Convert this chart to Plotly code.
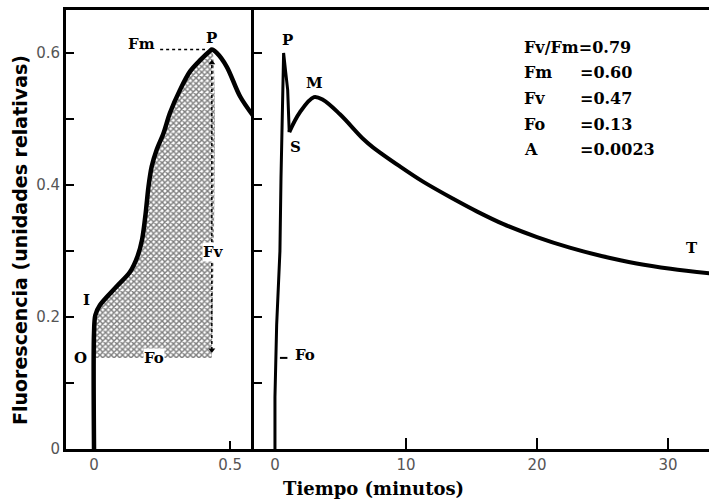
import plotly.graph_objects as go

# ---------------- data ----------------
# Fast kinetics (left panel)
fast_t = [0, 0, 0.005, 0.022, 0.083, 0.132, 0.16, 0.177, 0.19, 0.2, 0.212, 0.23,
          0.255, 0.279, 0.316, 0.353, 0.39, 0.426, 0.433, 0.451, 0.488, 0.537, 0.588]
fast_f = [0, 0.176, 0.203, 0.218, 0.246, 0.268, 0.292, 0.318, 0.358, 0.397, 0.428, 0.453,
          0.478, 0.509, 0.544, 0.572, 0.589, 0.603, 0.605, 0.600, 0.579, 0.534, 0.503]

# Slow kinetics (right panel, minutes)
slow_t = [0, 0, 0.13, 0.33, 0.38, 0.46, 0.59, 0.66, 0.82, 0.97, 1.09, 1.9, 2.98, 3.66,
          4.96, 6.72, 7.48, 9.54, 11.3, 13.6, 15.4, 17.4, 20.0, 22.5, 25.0, 27.6, 30.2, 33.2]
slow_f = [0, 0.079, 0.188, 0.282, 0.30, 0.41, 0.564, 0.60, 0.571, 0.544, 0.48, 0.51, 0.533,
          0.529, 0.507, 0.470, 0.457, 0.428, 0.405, 0.379, 0.360, 0.341, 0.321, 0.305,
          0.292, 0.281, 0.273, 0.266]

FO = 0.138
FM = 0.605

param_names = ["Fv/Fm", "Fm", "Fv", "Fo", "A"]
param_values = ["0.79", "0.60", "0.47", "0.13", "0.0023"]

y_tickvals = [0, 0.1, 0.2, 0.3, 0.4, 0.5, 0.6]
y_ticktext = ["0", "", "0.2", "", "0.4", "", "0.6"]
left_xticks = [0, 0.5]
left_xtext = ["0", "0.5"]
right_xticks = [0, 10, 20, 30]
right_xtext = ["0", "10", "20", "30"]

# ---------------- layout helpers ----------------
W, H = 709, 501
def px(x):
    return x / W
def py(y):
    return 1 - y / H

SERIF = "DejaVu Serif"
SANS = "DejaVu Sans"
TICKFONT = dict(family=SANS, size=15, color="#555")

fig = go.Figure()

# hatched area between curve and Fo up to P
peak = fast_f.index(max(fast_f))
poly_x = [fast_t[0]] + fast_t[1:peak + 1] + [fast_t[peak]]
poly_y = [FO] + fast_f[1:peak + 1] + [FO]
fig.add_trace(go.Scatter(
    x=poly_x, y=poly_y, fill="toself", mode="none", xaxis="x", yaxis="y",
    line=dict(shape="spline", smoothing=0.9),
    fillcolor="rgba(0,0,0,0)",
    fillpattern=dict(shape="x", fgcolor="black", bgcolor="white", size=4, solidity=0.6),
    showlegend=False, hoverinfo="skip"))

# Fv dotted arrow
fig.add_trace(go.Scatter(
    x=[fast_t[peak], fast_t[peak]], y=[FO + 0.012, FM - 0.02], mode="lines",
    line=dict(color="black", width=1.5, dash="dot"), xaxis="x", yaxis="y",
    showlegend=False, hoverinfo="skip"))
fig.add_trace(go.Scatter(
    x=[fast_t[peak], fast_t[peak]], y=[FO + 0.012, FM - 0.02], mode="markers",
    marker=dict(symbol=["triangle-down", "triangle-up"], size=6, color="black"),
    xaxis="x", yaxis="y", showlegend=False, hoverinfo="skip"))

# Fm dotted line
fig.add_trace(go.Scatter(
    x=[0.243, fast_t[peak] - 0.025], y=[FM, FM], mode="lines",
    line=dict(color="black", width=1.5, dash="dot"), xaxis="x", yaxis="y",
    showlegend=False, hoverinfo="skip"))

# fast curve
fig.add_trace(go.Scatter(
    x=fast_t, y=fast_f, mode="lines",
    line=dict(color="black", width=4.5, shape="spline", smoothing=0.9),
    xaxis="x", yaxis="y", showlegend=False))

# slow curve: spike part (straight segments) and slow phase (smoothed)
s_idx = 10
fig.add_trace(go.Scatter(
    x=slow_t[:s_idx + 1], y=slow_f[:s_idx + 1], mode="lines",
    line=dict(color="black", width=3),
    xaxis="x2", yaxis="y2", showlegend=False))
fig.add_trace(go.Scatter(
    x=slow_t[s_idx:], y=slow_f[s_idx:], mode="lines",
    line=dict(color="black", width=4, shape="spline", smoothing=1.0),
    xaxis="x2", yaxis="y2", showlegend=False))

# Fo tick in right panel
fig.add_trace(go.Scatter(
    x=[0.38, 0.95], y=[FO, FO], mode="lines", line=dict(color="black", width=2),
    xaxis="x2", yaxis="y2", showlegend=False, hoverinfo="skip"))

common_axis = dict(showline=True, linecolor="black", linewidth=3, ticks="inside",
                   tickcolor="black", tickwidth=2, showgrid=False, zeroline=False,
                   tickfont=TICKFONT, automargin=False)

fig.update_layout(
    width=W, height=H, margin=dict(l=0, r=0, t=0, b=0),
    paper_bgcolor="white", plot_bgcolor="white",
    xaxis=dict(domain=[px(66), px(254)], range=[-0.103, 0.588], anchor="y",
               tickvals=left_xticks, ticktext=left_xtext, ticklen=8, mirror=True,
               **common_axis),
    xaxis2=dict(domain=[px(254), 1], range=[-1.6, 33.13], anchor="y2",
                tickvals=right_xticks, ticktext=right_xtext, ticklen=11, mirror=True,
                **common_axis),
    yaxis=dict(domain=[py(449), py(10)], range=[0, 0.665], anchor="x",
               tickvals=y_tickvals, ticktext=y_ticktext, ticklen=8, mirror=False,
               **common_axis),
    yaxis2=dict(domain=[py(449), py(10)], range=[0, 0.665], anchor="x2",
                tickvals=y_tickvals, ticktext=[""] * len(y_tickvals), ticklen=8,
                mirror=False, **common_axis),
)

LBL = dict(family=SERIF, size=15, color="black")
BOX = dict(family=SERIF, size=16, color="black")
ann = []
def a(x, y, text, xref="x", yref="y", **kw):
    d = dict(x=x, y=y, text="<b>%s</b>" % text, xref=xref, yref=yref, showarrow=False,
             font=LBL, xanchor="center", yanchor="middle")
    d.update(kw)
    ann.append(d)

# left panel labels
a(fast_t[peak], FM, "P", yshift=12)
a(0.173, FM, "Fm", yshift=6)
a(-0.029, 0.226, "I")
a(-0.048, FO, "O")
a(fast_t[peak] + 0.005, 0.298, "Fv", bgcolor="white", borderpad=0)
a(0.22, FO, "Fo", bgcolor="white", borderpad=0)

# right panel labels
a(0.97, 0.60, "P", xref="x2", yref="y2", yshift=13)
a(1.55, 0.458, "S", xref="x2", yref="y2")
a(2.98, 0.533, "M", xref="x2", yref="y2", yshift=14)
a(31.8, 0.305, "T", xref="x2", yref="y2")
a(1.35, FO, "Fo", xref="x2", yref="y2", xanchor="left", yshift=3)

# parameter box
rows_y = [48, 73, 98, 125, 150]
for i, (n, v) in enumerate(zip(param_names, param_values)):
    if i == 0:
        ann.append(dict(x=px(522), y=py(rows_y[i]), xref="paper", yref="paper",
                        text="<b>%s=%s</b>" % (n, v), showarrow=False, xanchor="left",
                        yanchor="middle", font=BOX))
    else:
        ann.append(dict(x=px(522), y=py(rows_y[i]), xref="paper", yref="paper",
                        text="<b>%s</b>" % n, showarrow=False, xanchor="left",
                        yanchor="middle", font=BOX))
        ann.append(dict(x=px(578), y=py(rows_y[i]), xref="paper", yref="paper",
                        text="<b>=%s</b>" % v, showarrow=False, xanchor="left",
                        yanchor="middle", font=BOX))

# axis titles
ann.append(dict(x=px(374), y=py(488), xref="paper", yref="paper",
                text="<b>Tiempo (minutos)</b>", showarrow=False,
                xanchor="center", yanchor="middle",
                font=dict(family=SERIF, size=18, color="black")))
ann.append(dict(x=px(20), y=py(240), xref="paper", yref="paper",
                text="<b>Fluorescencia (unidades relativas)</b>", showarrow=False,
                xanchor="center", yanchor="middle",
                textangle=-90, font=dict(family=SANS, size=19, color="black")))

fig.update_layout(annotations=ann)
fig.write_html("out.html")
